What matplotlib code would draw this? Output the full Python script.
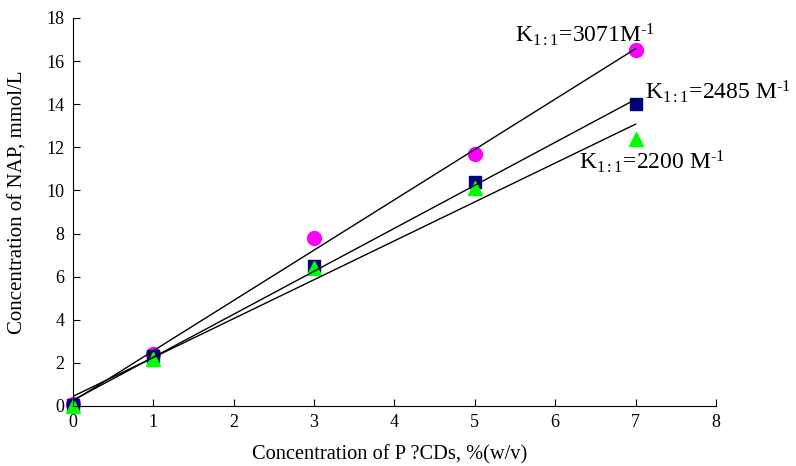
import numpy as np
import matplotlib
matplotlib.use("Agg")
import matplotlib.pyplot as plt

plt.rcParams['font.family'] = ['Liberation Serif', 'DejaVu Serif']
plt.rcParams['mathtext.fontset'] = 'custom'
plt.rcParams['mathtext.rm'] = 'Liberation Serif'
plt.rcParams['mathtext.it'] = 'Liberation Serif:italic'

# data
conc_pcd = [0, 1, 3, 5, 7]
nap_a = [0.1, 2.4, 7.8, 11.7, 16.5]
nap_b = [0.05, 2.3, 6.5, 10.4, 14.0]
nap_c = [0.0, 2.2, 6.4, 10.1, 12.4]
k_labels = [r"K$_{1:1}$=3071M$^{\text{-1}}$", r"K$_{1:1}$=2485 M$^{\text{-1}}$", r"K$_{1:1}$=2200 M$^{\text{-1}}$"]
label_pos = [(5.5, 17.2), (7.12, 14.6), (6.3, 11.35)]

fig = plt.figure(figsize=(7.96, 4.66), dpi=100)
ax = fig.add_axes([0.0917, 0.1288, 0.8078, 0.8326])

series = [(nap_a, 'o', '#ff00ff', 10), (nap_b, 's', '#000080', 8.5), (nap_c, '^', '#00ff00', 10.5)]
x = np.array(conc_pcd, dtype=float)
for y, m, c, ms in series:
    ax.plot(x, y, linestyle='none', marker=m, color=c, markersize=ms, zorder=2, clip_on=False)
    k, b = np.polyfit(x, y, 1)
    ax.plot([x[0], x[-1]], [b, k * x[-1] + b], color='black', lw=1, zorder=3)

for txt, (tx, ty) in zip(k_labels, label_pos):
    ax.text(tx, ty, txt, fontsize=17, va='center', ha='left')

ax.set_xlim(0, 8)
ax.set_ylim(0, 18)
ax.set_xticks(range(0, 9))
ax.set_yticks(range(0, 19, 2))
ax.tick_params(direction='in', length=5, labelsize=13, pad=6)
for s in ['top', 'right']:
    ax.spines[s].set_visible(False)

# axis titles placed like the original
fig.text(389.5 / 796, 1 - 459.5 / 466, "Concentration of P ?CDs, %(w/v)", fontsize=14.7,
         ha='center', va='baseline')
fig.text(18 / 796, 1 - 202 / 466, "Concentration of NAP, mmol/L", fontsize=15,
         ha='center', va='center', rotation=90)

fig.savefig("out.png", dpi=100)
